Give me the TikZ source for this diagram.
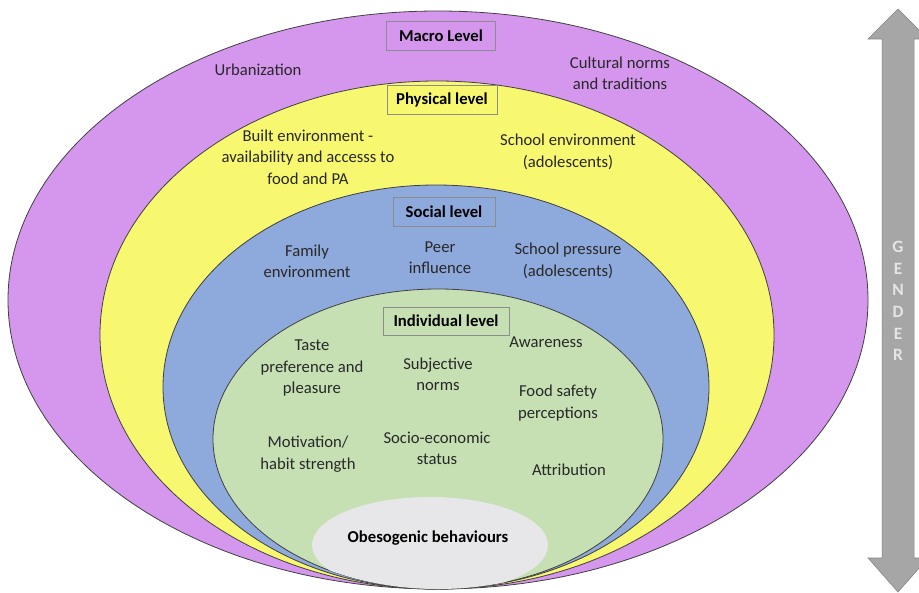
\documentclass[tikz,border=0pt]{standalone}
\usepackage{fontspec}
\setmainfont{Carlito}
\usepackage{xcolor}
\usepackage{tikz}
\usetikzlibrary{positioning}
\definecolor{macro}{RGB}{213,151,238}
\definecolor{physical}{RGB}{247,247,112}
\definecolor{social}{RGB}{142,169,219}
\definecolor{individual}{RGB}{198,224,180}
\definecolor{behav}{RGB}{231,231,233}
\definecolor{arrowgrey}{RGB}{166,166,166}
\definecolor{txt}{RGB}{40,40,40}

\begin{document}
\begin{tikzpicture}[x=0.75pt,y=-0.75pt,
  every node/.style={font=\fontsize{12.5}{16}\selectfont},
  ring/.style={draw=black!75, line width=0.6pt},
  levelbox/.style={draw=black!45, font=\fontsize{12.5}{16}\selectfont\bfseries, minimum height=21.5pt, inner sep=2pt},
  factor/.style={align=center, text=txt}]
\useasboundingbox (0,0) rectangle (919,592);
% nested levels
\draw[ring, fill=macro] (438,300) ellipse [x radius=430, y radius=289];
\draw[ring, fill=physical] (437,335) ellipse [x radius=337, y radius=254];
\draw[ring, fill=social] (436,387) ellipse [x radius=273, y radius=202];
\draw[ring, fill=individual] (438,439) ellipse [x radius=225, y radius=150];
\begin{scope}\clip (438,439) ellipse [x radius=225, y radius=150];
\fill[behav] (430,545) ellipse [x radius=118, y radius=48];
\end{scope}
% level labels
\node[levelbox, fill=macro, minimum width=82pt] (macrolbl) at (441,36) {Macro Level};
\node[levelbox, fill=physical, minimum width=82.5pt] (physlbl) at (442,100) {Physical level};
\node[levelbox, fill=social, minimum width=76.5pt] (sociallbl) at (444,212) {Social level};
\node[levelbox, fill=individual, minimum width=94.5pt, minimum height=21pt] (indivlbl) at (446,321) {Individual level};
% factors
\node[factor] (urban) at (258,70) {Urbanization};
\node[factor] (cultural) at (620,73) {Cultural norms\\and traditions};
\node[factor] (built) at (308,157) {Built environment -\\availability and accesss to\\food and PA};
\node[factor] (schoolenv) at (568,152) {School environment\\(adolescents)};
\node[factor] (family) at (307,261) {Family\\environment};
\node[factor] (peer) at (440,258) {Peer\\influence};
\node[factor] (pressure) at (568,261) {School pressure\\(adolescents)};
\node[factor] (taste) at (312,368) {Taste\\preference and\\pleasure};
\node[factor] (subjective) at (438,374) {Subjective\\norms};
\node[factor] (awareness) at (546,342) {Awareness};
\node[factor] (foodsafety) at (558,403) {Food safety\\perceptions};
\node[factor] (motivation) at (308,454) {Motivation/\\habit strength};
\node[factor] (socio) at (437,448) {Socio-economic\\status};
\node[factor] (attribution) at (569,470) {Attribution};
\node[font=\fontsize{12.5}{16}\selectfont\bfseries] (obeso) at (428,538) {Obesogenic behaviours};
% gender arrow
\draw[fill=arrowgrey, draw=black!50] (898,9) -- (928,39) -- (914,39) -- (914,558) -- (928,558) -- (898,592)
  -- (868,558) -- (882,558) -- (882,39) -- (868,39) -- cycle;
\foreach \l [count=\i from 0] in {G,E,N,D,E,R}
  \node[text=black!10, font=\fontsize{13}{15}\selectfont\bfseries] (gender\i) at (898,{247+21.6*\i}) {\l};
\end{tikzpicture}
\end{document}
